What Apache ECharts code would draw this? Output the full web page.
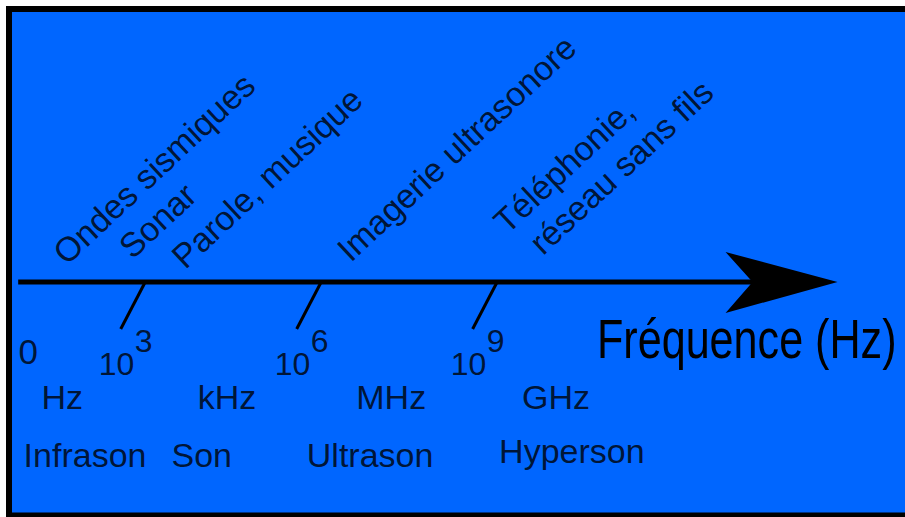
<!DOCTYPE html>
<html>
<head>
<meta charset="utf-8">
<script src="https://cdn.jsdelivr.net/npm/echarts@6.0.0/dist/echarts.min.js"></script>
<style>
html, body { margin: 0; padding: 0; background: #0066ff; overflow: hidden; }
#chart { width: 905px; height: 517px; }
</style>
</head>
<body>
<div id="chart"></div>
<script>
// ---------------- DATA ----------------
// frequency axis in decades (log10 of Hz)
const axisStart = 1.03;
const axisEnd = 15;
const axisTitle = 'Fréquence (Hz)';

const tickExponents = [3, 6, 9];            // 10^3, 10^6, 10^9 Hz
const tickBases = ['10', '10', '10'];
const tickPowers = ['3', '6', '9'];

const zeroLabel = '0';
const zeroExponent = 1.2;

const unitLabels = ['Hz', 'kHz', 'MHz', 'GHz'];
const unitExponents = [1.78, 4.59, 7.39, 10.2];

const rangeLabels = ['Infrason', 'Son', 'Ultrason', 'Hyperson'];
const rangeExponents = [2.17, 4.16, 7.03, 10.47];

const appLabels = ['Ondes sismiques', 'Sonar', 'Parole, musique', 'Imagerie ultrasonore', 'Téléphonie,', 'réseau sans fils'];
const appExponents = [1.72, 2.84, 3.74, 6.56, 9.23, 9.84];
const appLevels = [2.46, 3.06, 2.06, 2.76, 5.56, 3.46];

// ---------------- LAYOUT ----------------
const FONT = '"Liberation Sans", Arial, Helvetica, sans-serif';
const rowTickBase = -8.18;
const rowTickPower = -5.88;
const rowZero = -6.98;
const rowUnit = -11.51;
const rowRange = [-17.31, -17.31, -17.31, -16.91];

function textSeries(name, items, labelOpts) {
  return {
    name: name,
    type: 'scatter',
    symbolSize: 0,
    silent: true,
    z: 5,
    data: items.map(function (it) { return { value: [it[0], it[1]], name: it[2] }; }),
    label: Object.assign({
      show: true,
      position: 'inside',
      formatter: function (p) { return p.name; },
      color: '#000',
      fontFamily: FONT
    }, labelOpts)
  };
}

const chart = echarts.init(document.getElementById('chart'), null, { renderer: 'svg' });

const option = {
  backgroundColor: '#ffffff',
  animation: false,
  grid: { left: 0, right: 0, top: 0, bottom: 0 },
  xAxis: { type: 'value', min: 0.72, max: 16.15, show: false },
  yAxis: { type: 'value', min: -23.5, max: 28.2, show: false },
  graphic: [
    {
      type: 'rect',
      z: -10,
      shape: { x: 9, y: 9, width: 896, height: 506 },
      style: { fill: '#0066ff' },
      silent: true
    },
    {
      type: 'line',
      z: -9,
      shape: { x1: 6, y1: 9, x2: 905, y2: 9 },
      style: { stroke: '#000000', lineWidth: 6 },
      silent: true
    },
    {
      type: 'line',
      z: -9,
      shape: { x1: 9, y1: 6, x2: 9, y2: 517 },
      style: { stroke: '#000000', lineWidth: 6 },
      silent: true
    },
    {
      type: 'line',
      z: -9,
      shape: { x1: 6, y1: 515, x2: 905, y2: 515 },
      style: { stroke: '#000000', lineWidth: 5 },
      silent: true
    },
    {
      type: 'text',
      z: 10,
      x: 597,
      y: 339,
      scaleX: 0.77,
      style: {
        text: axisTitle,
        font: '56px ' + FONT,
        fill: '#000000',
        align: 'left',
        verticalAlign: 'middle'
      },
      silent: true
    }
  ],
  series: [
    {
      name: 'axe',
      type: 'line',
      silent: true,
      symbol: 'none',
      z: 3,
      lineStyle: { color: '#000000', width: 5 },
      data: [[axisStart, 0], [axisEnd - 1, 0]]
    },
    {
      name: 'fleche',
      type: 'custom',
      silent: true,
      z: 4,
      data: [[axisEnd, 0]],
      renderItem: function (params, api) {
        const p = api.coord([api.value(0), api.value(1)]);
        return {
          type: 'polygon',
          shape: { points: [[p[0], p[1]], [p[0] - 112, p[1] - 30], [p[0] - 85, p[1]], [p[0] - 112, p[1] + 31]] },
          style: { fill: '#000000' }
        };
      }
    },
    {
      name: 'graduations',
      type: 'custom',
      silent: true,
      z: 4,
      data: tickExponents.map(function (e) { return [e, 0]; }),
      renderItem: function (params, api) {
        const p = api.coord([api.value(0), api.value(1)]);
        return {
          type: 'line',
          shape: { x1: p[0] + 11, y1: p[1] + 1, x2: p[0] - 13, y2: p[1] + 47 },
          style: { stroke: '#000000', lineWidth: 3 }
        };
      }
    },
    textSeries('zero', [[zeroExponent, rowZero, zeroLabel]], { fontSize: 35, align: 'center', verticalAlign: 'middle' }),
    textSeries('base', tickExponents.map(function (e, i) { return [e, rowTickBase, tickBases[i]]; }),
      { fontSize: 32, align: 'left', verticalAlign: 'middle', offset: [-35, 0] }),
    textSeries('puissance', tickExponents.map(function (e, i) { return [e, rowTickPower, tickPowers[i]]; }),
      { fontSize: 32, align: 'left', verticalAlign: 'middle', offset: [1, 0] }),
    textSeries('unites', unitExponents.map(function (e, i) { return [e, rowUnit, unitLabels[i]]; }),
      { fontSize: 34, align: 'center', verticalAlign: 'middle' }),
    textSeries('domaines', rangeExponents.map(function (e, i) { return [e, rowRange[i], rangeLabels[i]]; }),
      { fontSize: 34, align: 'center', verticalAlign: 'middle' }),
    textSeries('applications', appExponents.map(function (e, i) { return [e, appLevels[i], appLabels[i]]; }),
      { fontSize: 34, align: 'left', verticalAlign: 'middle', rotate: 43 })
  ]
};

chart.setOption(option);
</script>
</body>
</html>
